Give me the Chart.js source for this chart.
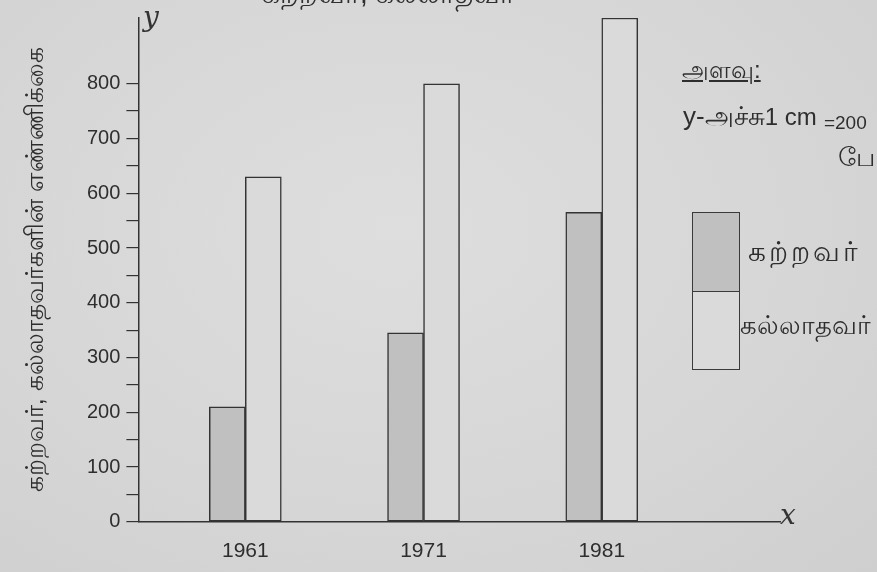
<!DOCTYPE html>
<html>
<head>
<meta charset="utf-8">
<script src="https://cdn.jsdelivr.net/npm/chart.js@4/dist/chart.umd.min.js"></script>
<style>
  body { margin: 0; width: 877px; height: 572px; overflow: hidden;
         background: radial-gradient(ellipse at 45% 40%, #dedede 0%, #d6d6d6 60%, #cfcfcf 100%);
         font-family: "Liberation Sans", Arial, sans-serif; color: #333; }
  #wrap { position: relative; width: 877px; height: 572px; }
  canvas { position: absolute; left: 0; top: 0; }
  .note { position: absolute; white-space: nowrap; color: #2e2e2e; }
  .axisname { position: absolute; font-family: "DejaVu Serif", serif; font-style: italic; font-size: 28px; color: #333; }
  #legendBox { position: absolute; left: 692px; top: 212px; width: 48px; height: 158px;
               border: 1.5px solid #3a3a3a; box-sizing: border-box; }
  #legendBox div { height: 50%; box-sizing: border-box; }
</style>
</head>
<body>
<div id="wrap">
  <canvas id="myChart" width="877" height="572"></canvas>
  <div class="note" style="left:262px; top:-22px; font-size:28px;">கற்றவர், கல்லாதவர்</div>
  <div class="axisname" style="left:143px; top:0px;">y</div>
  <div class="axisname" style="left:780px; top:498px;">x</div>
  <div class="note" style="left:682px; top:56px; font-size:24px; text-decoration:underline;">அளவு:</div>
  <div class="note" style="left:683px; top:101px; font-size:26px;">y-அச்சு<span style="font-size:24px;">1 cm</span> <span style="font-size:19px; position:relative; top:4px;">=200</span></div>
  <div class="note" style="left:838px; top:142px; font-size:26px;">பேர்</div>
  <div id="legendBox"><div id="lgTop"></div><div id="lgBottom" style="border-top:1.5px solid #3a3a3a;"></div></div>
  <div class="note" style="left:748px; top:236px; font-size:28px; letter-spacing:3px;">கற்றவர்</div>
  <div class="note" style="left:740px; top:310px; font-size:26px;">கல்லாதவர்</div>
</div>
<script>
// census years and counts
var years = [1961, 1971, 1981];
var literate = [210, 345, 565];     // கற்றவர்
var illiterate = [630, 800, 920];   // கல்லாதவர்
var yTicks = [0, 100, 200, 300, 400, 500, 600, 700, 800];

var litColor = '#c0c0c0';
var illitColor = '#dadada';
var lineColor = '#333333';

document.getElementById('lgTop').style.background = litColor;
document.getElementById('lgBottom').style.background = illitColor;

function points(vals) {
  return years.map(function (y, i) { return { x: y, y: vals[i] }; });
}

var ctx = document.getElementById('myChart').getContext('2d');
var chart = new Chart(ctx, {
  type: 'bar',
  data: {
    datasets: [{
      label: 'கற்றவர்',
      data: points(literate),
      backgroundColor: litColor,
      borderColor: lineColor,
      borderWidth: 1.5,
      borderSkipped: false,
      barThickness: 36
    }, {
      label: 'கல்லாதவர்',
      data: points(illiterate),
      backgroundColor: illitColor,
      borderColor: lineColor,
      borderWidth: 1.5,
      borderSkipped: false,
      barThickness: 36
    }]
  },
  options: {
    responsive: false,
    animation: false,
    layout: { padding: { left: 21, right: 97, top: 0, bottom: -9 } },
    plugins: { legend: { display: false }, tooltip: { enabled: false } },
    scales: {
      x: {
        type: 'linear',
        offset: false,
        min: 1955,
        max: 1991,
        afterBuildTicks: function (axis) {
          axis.ticks = years.map(function (v) { return { value: v }; });
        },
        grid: { display: false, drawTicks: false },
        border: { display: true, color: lineColor, width: 1.5 },
        ticks: {
          padding: 17,
          color: '#2e2e2e',
          font: { family: 'Liberation Sans', size: 21 },
          callback: function (v) { return String(v); }
        }
      },
      y: {
        min: 0,
        max: 920,
        afterBuildTicks: function (axis) {
          var t = [];
          for (var v = 0; v <= 800; v += 50) t.push({ value: v });
          axis.ticks = t;
        },
        grid: { drawOnChartArea: false, drawTicks: true, tickLength: 12, color: lineColor, lineWidth: 1.2 },
        border: { display: true, color: lineColor, width: 1.5 },
        ticks: {
          padding: 6,
          color: '#2e2e2e',
          font: { family: 'Liberation Sans', size: 20 },
          callback: function (v) { return yTicks.indexOf(v) >= 0 ? String(v) : ''; }
        },
        title: {
          display: true,
          text: 'கற்றவர், கல்லாதவர்களின் எண்ணிக்கை',
          color: '#2e2e2e',
          font: { size: 25 },
          padding: { top: 0, bottom: 30 }
        }
      }
    }
  }
});
</script>
</body>
</html>
